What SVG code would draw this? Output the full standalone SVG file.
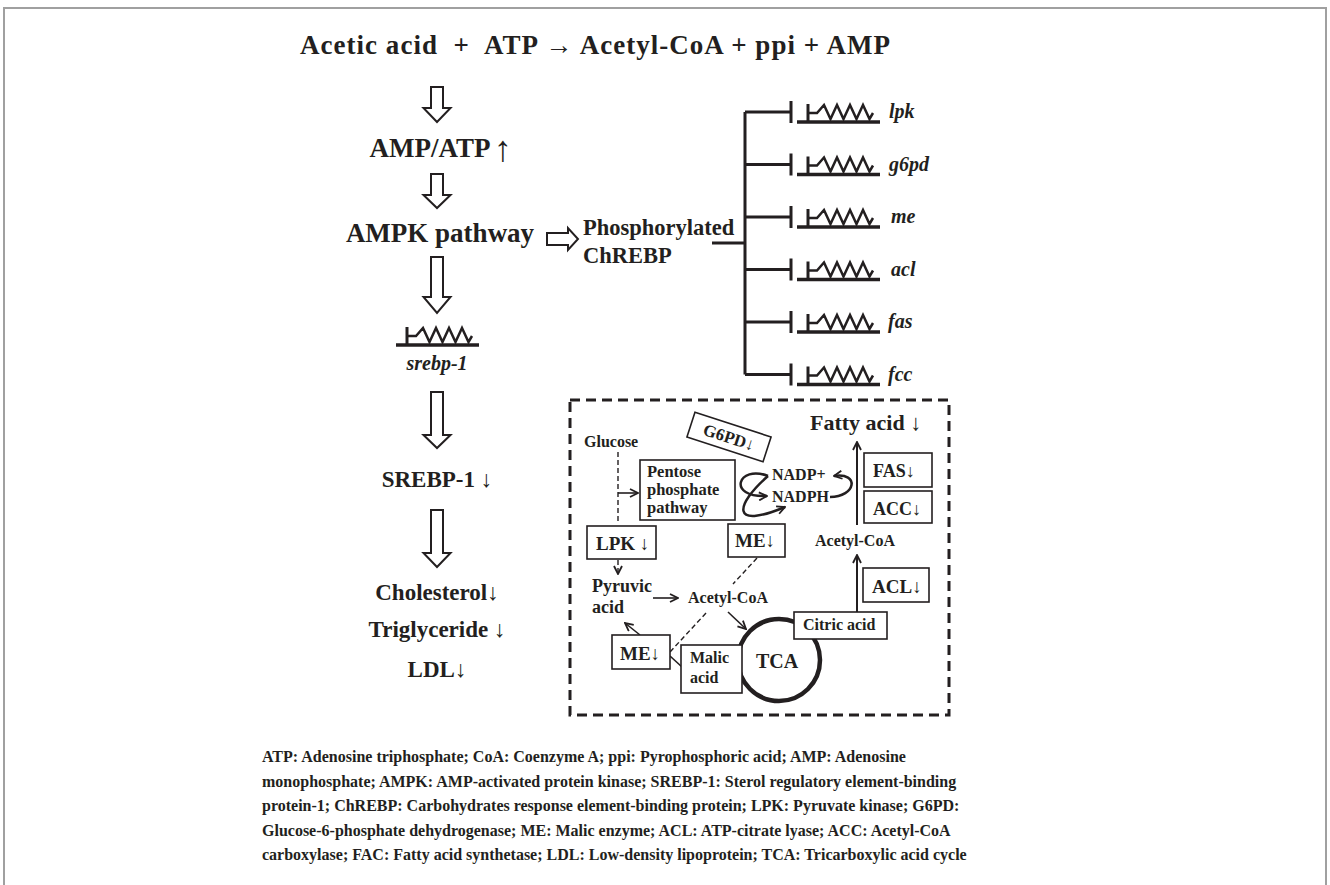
<svg xmlns="http://www.w3.org/2000/svg" width="1330" height="885" viewBox="0 0 1330 885">
<style>
.t{font-family:"Liberation Serif","Times New Roman",serif;font-weight:bold;fill:#231f20}
.i{font-style:italic}
.n{font-weight:normal}
.ln{stroke:#231f20;fill:none}
.box{stroke:#231f20;stroke-width:1.6;fill:#fff}
.ha{fill:#fff;stroke:#231f20;stroke-width:2}
.dash{stroke:#231f20;fill:none;stroke-width:1.4;stroke-dasharray:5 3}
</style>
<defs>
<marker id="ah" viewBox="0 0 10 10" refX="9" refY="5" markerWidth="10" markerHeight="10" markerUnits="userSpaceOnUse" orient="auto">
<path d="M1,1 L9,5 L1,9" fill="none" stroke="#231f20" stroke-width="1.8"/>
</marker>
<g id="gene">
<line x1="0" y1="0" x2="83" y2="0" stroke="#231f20" stroke-width="3.5"/>
<polyline points="11,0 11,-18" class="ln" stroke-width="3"/>
<polyline points="11,-9 20,-9 27,-17 33.5,-3 40,-17 46.5,-3 53,-17 59.5,-3 66,-17 72.5,-3 76,-9" class="ln" stroke-width="2.5"/>
</g>
</defs>
<rect width="1330" height="885" fill="#fff"/>
<path d="M4,885 V8 H1326 V885" fill="none" stroke="#a0a0a0" stroke-width="2"/>

<g id="title"><text class="t" x="300" y="54" font-size="27" textLength="590" lengthAdjust="spacing" xml:space="preserve">Acetic acid  +  ATP <tspan class="n">→</tspan> Acetyl-CoA + ppi + AMP</text></g>

<g id="connectors">
<path class="ha" d="M431,87 H443 V108 H450.5 L437,122 L423.5,108 H431 Z"/>
<path class="ha" d="M431,174 H443 V195 H450.5 L437,208 L423.5,195 H431 Z"/>
<path class="ha" d="M431,257 H443 V297 H450.5 L437,313 L423.5,297 H431 Z"/>
<path class="ha" d="M431,392 H443 V435 H450.5 L437,448 L423.5,435 H431 Z"/>
<path class="ha" d="M431,510 H443 V553 H450.5 L437,567 L423.5,553 H431 Z"/>
<path class="ha" d="M547,233 H568 V228 L578,239 L568,250 V245 H547 Z"/>
<path class="ln" stroke-width="3" d="M712,243 H745 M745,112 V374.5 M745,112 H790 M745,164.5 H790 M745,217 H790 M745,269.5 H790 M745,322 H790 M745,374.5 H790"/>
<path class="ln" stroke-width="3" d="M791,101 V123 M791,153.5 V175.5 M791,206 V228 M791,258.5 V280.5 M791,311 V333 M791,363.5 V385.5"/>
<line class="ln" stroke-width="2" x1="857" y1="525" x2="857" y2="442" marker-end="url(#ah)"/>
<line class="ln" stroke-width="2" x1="857" y1="612" x2="857" y2="555" marker-end="url(#ah)"/>
<path class="ln" stroke-width="2.5" d="M830,497 C856,497 860,472 834,476" marker-end="url(#ah)"/>
<path class="ln" stroke-width="2.5" d="M768,476 C738,464 726,498 767,496" marker-end="url(#ah)"/>
<path class="ln" stroke-width="2.5" d="M768,476 C735,505 730,530 785,507" marker-end="url(#ah)"/>
<line class="dash" x1="618" y1="452" x2="618" y2="524"/>
<line class="ln" stroke-width="1.6" x1="618" y1="493" x2="638" y2="493" marker-end="url(#ah)"/>
<line class="dash" x1="618" y1="560" x2="618" y2="574" marker-end="url(#ah)"/>
<line class="ln" stroke-width="1.6" x1="653" y1="598" x2="678" y2="598" marker-end="url(#ah)"/>
<line class="ln" stroke-width="1.6" x1="728" y1="612" x2="746" y2="629" marker-end="url(#ah)"/>
<line class="ln" stroke-width="1.6" x1="640" y1="635" x2="625" y2="623" marker-end="url(#ah)"/>
<line class="ln" stroke-width="1.6" x1="670" y1="656" x2="682" y2="667"/>
<line class="dash" x1="757" y1="558" x2="733" y2="584"/>
<line class="dash" x1="706" y1="613" x2="670" y2="652"/>
</g>

<g id="amp-atp"><text class="t" x="430" y="157" font-size="27" text-anchor="middle">AMP/ATP</text><text class="t n" x="494" y="161" font-size="36">↑</text></g>
<g id="ampk"><text class="t" x="440" y="242" font-size="27" text-anchor="middle">AMPK pathway</text></g>
<g id="chrebp"><text class="t" x="583" y="235" font-size="22.5">Phosphorylated</text><text class="t" x="583" y="263" font-size="22.5">ChREBP</text></g>
<g id="srebp-gene"><use href="#gene" x="396" y="345"/><text class="t i" x="437" y="370" font-size="20" text-anchor="middle">srebp-1</text></g>
<g id="srebp"><text class="t" x="437" y="487" font-size="23" text-anchor="middle">SREBP-1 <tspan class="n">↓</tspan></text></g>
<g id="lipids">
<text class="t" x="437" y="600" font-size="23" text-anchor="middle">Cholesterol<tspan class="n">↓</tspan></text>
<text class="t" x="437" y="637" font-size="23" text-anchor="middle">Triglyceride <tspan class="n">↓</tspan></text>
<text class="t" x="437" y="677" font-size="23" text-anchor="middle">LDL<tspan class="n">↓</tspan></text>
</g>

<g id="gene-lpk"><use href="#gene" x="797" y="122"/><text class="t i" x="889" y="118" font-size="20">lpk</text></g>
<g id="gene-g6pd"><use href="#gene" x="797" y="174.5"/><text class="t i" x="889" y="170.5" font-size="20">g6pd</text></g>
<g id="gene-me"><use href="#gene" x="797" y="227"/><text class="t i" x="891" y="223" font-size="20">me</text></g>
<g id="gene-acl"><use href="#gene" x="797" y="279.5"/><text class="t i" x="891" y="275.5" font-size="20">acl</text></g>
<g id="gene-fas"><use href="#gene" x="797" y="332"/><text class="t i" x="888" y="328" font-size="20">fas</text></g>
<g id="gene-fcc"><use href="#gene" x="797" y="384.5"/><text class="t i" x="888" y="380.5" font-size="20">fcc</text></g>

<g id="metabolism">
<rect x="570" y="400" width="379" height="315" fill="none" stroke="#231f20" stroke-width="3" stroke-dasharray="10 6"/>
</g>
<g id="fatty-acid"><text class="t" x="810" y="430" font-size="22">Fatty acid <tspan class="n">↓</tspan></text></g>
<g id="fas"><rect class="box" x="864" y="453" width="68" height="34"/><text class="t" x="873" y="477" font-size="18">FAS<tspan class="n">↓</tspan></text></g>
<g id="acc"><rect class="box" x="864" y="491" width="68" height="32"/><text class="t" x="873" y="515" font-size="18">ACC<tspan class="n">↓</tspan></text></g>
<g id="nadp"><text class="t" x="772" y="480" font-size="16">NADP+</text><text class="t" x="772" y="502" font-size="16">NADPH</text></g>
<g id="acetylcoa-r"><text class="t" x="815" y="546" font-size="16">Acetyl-CoA</text></g>
<g id="acl"><rect class="box" x="863" y="568" width="66" height="34"/><text class="t" x="872" y="593" font-size="19">ACL<tspan class="n">↓</tspan></text></g>
<g id="tca"><circle cx="779" cy="660" r="41" fill="none" stroke="#231f20" stroke-width="4.5"/><text class="t" x="777" y="668" font-size="20" text-anchor="middle">TCA</text></g>
<g id="citric"><rect class="box" x="794" y="612" width="93" height="27"/><text class="t" x="803" y="630" font-size="16">Citric acid</text></g>
<g id="malic"><rect class="box" x="681" y="645" width="61" height="48"/><text class="t" x="690" y="663" font-size="16">Malic</text><text class="t" x="690" y="683" font-size="16">acid</text></g>
<g id="me-low"><rect class="box" x="612" y="635" width="58" height="34"/><text class="t" x="620" y="660" font-size="19">ME<tspan class="n">↓</tspan></text></g>
<g id="acetylcoa-m"><text class="t" x="688" y="603" font-size="16">Acetyl-CoA</text></g>
<g id="pyruvic"><text class="t" x="592" y="592" font-size="18">Pyruvic</text><text class="t" x="592" y="613" font-size="18">acid</text></g>
<g id="lpk"><rect class="box" x="587" y="526" width="69" height="33"/><text class="t" x="596" y="550" font-size="19">LPK <tspan class="n">↓</tspan></text></g>
<g id="me-up"><rect class="box" x="728" y="524" width="57" height="33"/><text class="t" x="735" y="547" font-size="19">ME<tspan class="n">↓</tspan></text></g>
<g id="pentose"><rect class="box" x="640" y="460" width="95" height="60"/><text class="t" x="647" y="477" font-size="16.5">Pentose</text><text class="t" x="647" y="495" font-size="16.5">phosphate</text><text class="t" x="647" y="513" font-size="16.5">pathway</text></g>
<g id="glucose"><text class="t" x="584" y="447" font-size="16">Glucose</text></g>
<g id="g6pd" transform="translate(729,437) rotate(18)"><rect class="box" x="-40" y="-13" width="80" height="26"/><text class="t" x="0" y="6" font-size="17" text-anchor="middle">G6PD<tspan class="n">↓</tspan></text></g>

<g id="caption" class="t" font-size="16">
<text x="262" y="762">ATP: Adenosine triphosphate; CoA: Coenzyme A; ppi: Pyrophosphoric acid; AMP: Adenosine</text>
<text x="262" y="786.5">monophosphate; AMPK: AMP-activated protein kinase; SREBP-1: Sterol regulatory element-binding</text>
<text x="262" y="811">protein-1; ChREBP: Carbohydrates response element-binding protein; LPK: Pyruvate kinase; G6PD:</text>
<text x="262" y="835.5">Glucose-6-phosphate dehydrogenase; ME: Malic enzyme; ACL: ATP-citrate lyase; ACC: Acetyl-CoA</text>
<text x="262" y="860">carboxylase; FAC: Fatty acid synthetase; LDL: Low-density lipoprotein; TCA: Tricarboxylic acid cycle</text>
</g>
</svg>
